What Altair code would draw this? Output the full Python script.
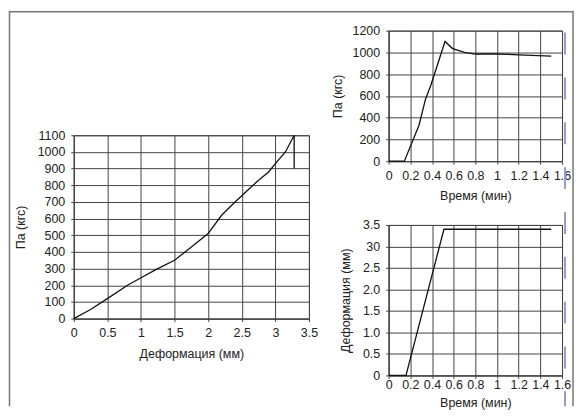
import altair as alt
import pandas as pd

# ---- data ----
left_def = [0, 0.25, 0.5, 0.8, 1.0, 1.25, 1.5, 1.75, 2.0, 2.2, 2.4, 2.6, 2.75, 2.9, 3.0, 3.15, 3.28, 3.28]
left_load = [0, 55, 120, 200, 245, 300, 350, 430, 510, 620, 700, 775, 830, 880, 930, 1000, 1100, 900]

top_time = [0, 0.145, 0.28, 0.34, 0.39, 0.52, 0.59, 0.70, 0.80, 1.0, 1.2, 1.5]
top_load = [0, 0, 330, 570, 700, 1100, 1035, 1000, 985, 985, 978, 965]

bot_time = [0, 0.16, 0.51, 1.5]
bot_def = [0, 0, 3.4, 3.4]

left_x_ticks = [0, 0.5, 1, 1.5, 2, 2.5, 3, 3.5]
left_y_ticks = [0, 100, 200, 300, 400, 500, 600, 700, 800, 900, 1000, 1100]
time_ticks = [0, 0.2, 0.4, 0.6, 0.8, 1, 1.2, 1.4, 1.6]
top_y_ticks = [0, 200, 400, 600, 800, 1000, 1200]
bot_y_ticks = [0, 0.5, 1, 1.5, 2, 2.5, 3, 3.5]
bot_y_labels = ["0", "0.5", "1.0", "1.5", "2.0", "2.5", "30", "3.5"]

FONT = "Liberation Sans"
LINE = "#111111"

df_left = pd.DataFrame({"d": left_def, "p": left_load, "i": range(len(left_def))})
df_top = pd.DataFrame({"t": top_time, "p": top_load, "i": range(len(top_time))})
df_bot = pd.DataFrame({"t": bot_time, "d": bot_def, "i": range(len(bot_time))})

def xaxis(title, values, label_pad=5, title_pad=9):
    return alt.Axis(title=title, values=values, format="~g", titlePadding=title_pad,
                    labelPadding=label_pad, labelOverlap=False, labelBound=False, labelFlush=False)

def yaxis(title, values, title_pad=7, **kw):
    if "labelExpr" not in kw:
        kw["format"] = "d"
    return alt.Axis(title=title, values=values, titlePadding=title_pad, labelPadding=6,
                    labelOverlap=False, labelFlush=False, **kw)

left = alt.Chart(df_left).mark_line(color=LINE, strokeWidth=1.3).encode(
    x=alt.X("d:Q", scale=alt.Scale(domain=[0, 3.5], nice=False), axis=xaxis("Деформация (мм)", left_x_ticks)),
    y=alt.Y("p:Q", scale=alt.Scale(domain=[0, 1100], nice=False), axis=yaxis("Па (кгс)", left_y_ticks, title_pad=10)),
    order="i:Q",
).properties(width=236, height=184)

spacer = alt.Chart(pd.DataFrame({"a": [0]})).mark_point(opacity=0).encode(
    x=alt.X("a:Q", axis=None), y=alt.Y("a:Q", axis=None)
).properties(width=236, height=85, view=alt.ViewBackground(stroke="transparent"))

top_line = alt.Chart(df_top).mark_line(color=LINE, strokeWidth=1.3).encode(
    x=alt.X("t:Q", scale=alt.Scale(domain=[0, 1.6], nice=False), axis=xaxis("Время (мин)", time_ticks, title_pad=8)),
    y=alt.Y("p:Q", scale=alt.Scale(domain=[0, 1200], nice=False), axis=yaxis("Па (кгс)", top_y_ticks, title_pad=8)),
    order="i:Q",
)

# page decorations: outer frame (left, top, right) and purple dashed margin line
deco_df = pd.DataFrame({"k": [0]})
purple = alt.Chart(deco_df).mark_rule(color="#9d98cc", strokeWidth=2, strokeDash=[22, 23], strokeDashOffset=23).encode(
    x=alt.value(177), y=alt.value(-20), y2=alt.value(377)
)
frame_left = alt.Chart(deco_df).mark_rule(color="#777777", strokeWidth=1.5).encode(
    x=alt.value(-380.5), y=alt.value(-20), y2=alt.value(377)
)
frame_right = alt.Chart(deco_df).mark_rule(color="#777777", strokeWidth=1.5).encode(
    x=alt.value(185), y=alt.value(-20), y2=alt.value(377)
)
frame_top = alt.Chart(deco_df).mark_rule(color="#777777", strokeWidth=1.5).encode(
    x=alt.value(-380.5), x2=alt.value(185), y=alt.value(-19)
)

top = alt.layer(top_line, purple, frame_left, frame_right, frame_top).properties(width=174, height=131)

label_expr = " : ".join(
    [f"datum.value == {v} ? '{l}'" for v, l in zip(bot_y_ticks, bot_y_labels)] + ["''"]
)
bottom = alt.Chart(df_bot).mark_line(color=LINE, strokeWidth=1.3).encode(
    x=alt.X("t:Q", scale=alt.Scale(domain=[0, 1.6], nice=False),
            axis=xaxis("Время (мин)", time_ticks, label_pad=0, title_pad=6)),
    y=alt.Y("d:Q", scale=alt.Scale(domain=[0, 3.5], nice=False),
            axis=yaxis("Деформация (мм)", bot_y_ticks, title_pad=10, labelExpr=label_expr)),
    order="i:Q",
).properties(width=174, height=151)

left_col = alt.vconcat(spacer, left, spacing=20, bounds="flush")
right_col = alt.vconcat(top, bottom, spacing=64, bounds="flush")

# nested flush columns count as zero width, so the spacing carries the left panel width
chart = alt.hconcat(left_col, right_col, spacing=316, bounds="flush").properties(
    padding=0, background="white"
).configure_view(
    stroke="#444444", strokeWidth=1
).configure_axis(
    labelFont=FONT, titleFont=FONT, labelFontSize=12.5, titleFontSize=12.5,
    titleFontWeight="normal", labelColor="#222222", titleColor="#222222",
    grid=True, gridColor="#444444", gridOpacity=1, gridWidth=1,
    domainColor="#444444", tickColor="#444444", tickSize=3,
)

chart.save("out.html", embed_options={"renderer": "svg", "actions": False})
